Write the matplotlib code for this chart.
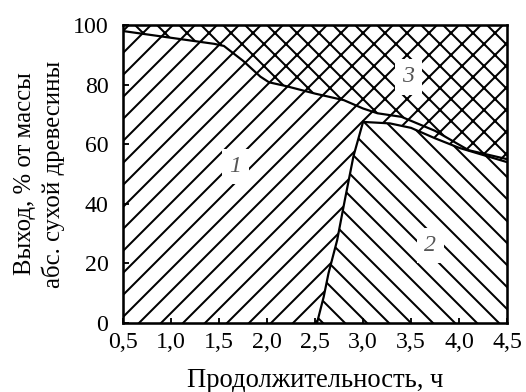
import matplotlib
matplotlib.use("Agg")
import matplotlib.pyplot as plt
import numpy as np

# boundary of zone 3 (upper edge of zone 1)
t_upper = [0.5, 1.45, 1.55, 1.75, 1.93, 2.02, 2.2, 2.5, 2.8, 3.0, 3.15, 3.4, 3.75, 4.1, 4.5]
y_upper = [98, 93.7, 93.0, 88.0, 82.7, 80.8, 79.5, 77.0, 74.8, 72.0, 70.4, 69.2, 64.5, 58.0, 55.0]

# boundary between zones 1 and 2
t_split = [2.52, 2.59, 2.64, 2.73, 2.81, 2.9, 3.0]
y_split = [0, 8.8, 16.7, 27.8, 41.3, 56.0, 67.5]

# upper edge of zone 2
t_zone2 = [3.0, 3.28, 3.5, 3.75, 4.0, 4.5]
y_zone2 = [67.5, 67.0, 65.5, 62.0, 58.8, 54.0]

x_ticks = [0.5, 1.0, 1.5, 2.0, 2.5, 3.0, 3.5, 4.0, 4.5]
x_labels = ["0,5", "1,0", "1,5", "2,0", "2,5", "3,0", "3,5", "4,0", "4,5"]
y_ticks = [0, 20, 40, 60, 80, 100]

zone_labels = ["1", "2", "3"]
zone_pos = [(1.67, 52.5), (3.7, 26.0), (3.47, 82.6)]

DPI = 132
plt.rcParams["font.family"] = ["Liberation Serif", "DejaVu Serif"]
plt.rcParams["hatch.linewidth"] = 1.1

fig = plt.figure(figsize=(526 / DPI, 392 / DPI), dpi=DPI)
ax = fig.add_axes([0.234, 0.176, 0.730, 0.760])

# zone 2: right of the split line, under its own top edge
z2_x = t_split + t_zone2[1:] + [4.5]
z2_y = y_split + y_zone2[1:] + [0]
ax.fill(z2_x, z2_y, facecolor="white", edgecolor="black", hatch="\\\\", linewidth=0)

# zone 1: under the zone 3 boundary, outside zone 2
z1_x = [0.5] + t_split + t_zone2[1:] + t_upper[::-1]
z1_y = [0] + y_split + y_zone2[1:] + y_upper[::-1]
ax.fill(z1_x, z1_y, facecolor="white", edgecolor="black", hatch="//", linewidth=0)

# zone 3: above the boundary up to 100 %
z3_x = t_upper + [4.5, 0.5]
z3_y = y_upper + [100, 100]
ax.fill(z3_x, z3_y, facecolor="white", edgecolor="black", hatch="xx", linewidth=0)

lw = 1.2
ax.plot(t_upper, y_upper, color="black", lw=lw)
ax.plot(t_split, y_split, color="black", lw=lw)
ax.plot(t_zone2, y_zone2, color="black", lw=lw)

for lab, (x, y) in zip(zone_labels, zone_pos):
    ax.text(x, y, lab, ha="center", va="center", fontsize=13, style="italic",
            color="#555555",
            bbox=dict(facecolor="white", edgecolor="none", pad=4))

ax.set_xlim(0.5, 4.5)
ax.set_ylim(0, 100)
ax.set_xticks(x_ticks)
ax.set_xticklabels(x_labels)
ax.set_yticks(y_ticks)
ax.tick_params(direction="in", length=3, width=1, labelsize=13,
               top=False, right=False)
ax.tick_params(axis="x", pad=5)
ax.tick_params(axis="y", pad=8)
for s in ax.spines.values():
    s.set_linewidth(1.4)

ax.set_xlabel("Продолжительность, ч", fontsize=14.5, labelpad=8)
ax.set_ylabel("Выход, % от массы\nабс. сухой древесины", fontsize=13.5,
              labelpad=4, linespacing=1.3)

fig.savefig("out.png", dpi=DPI)
